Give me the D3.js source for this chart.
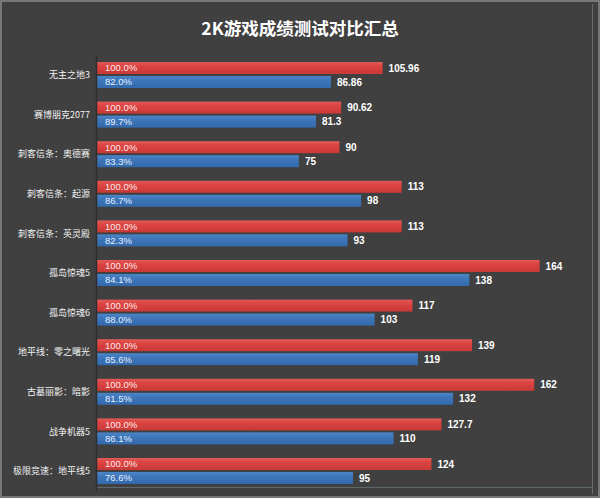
<!DOCTYPE html>
<html><head><meta charset="utf-8">
<script src="https://cdn.jsdelivr.net/npm/d3@7"></script>
<style>body{margin:0;background:#404040;}svg{display:block;}</style>
</head><body>
<script>
const categories = ["无主之地3","赛博朋克2077","刺客信条：奥德赛","刺客信条：起源","刺客信条：英灵殿","孤岛惊魂5","孤岛惊魂6","地平线：零之曙光","古墓丽影：暗影","战争机器5","极限竞速：地平线5"];
const redValues = [105.96, 90.62, 90, 113, 113, 164, 117, 139, 162, 127.7, 124];
const blueValues = [86.86, 81.3, 75, 98, 93, 138, 103, 119, 132, 110, 95];
const redPct = ["100.0%","100.0%","100.0%","100.0%","100.0%","100.0%","100.0%","100.0%","100.0%","100.0%","100.0%"];
const bluePct = ["82.0%","89.7%","83.3%","86.7%","82.3%","84.1%","88.0%","85.6%","81.5%","86.1%","76.6%"];
const redLabels = ["105.96","90.62","90","113","113","164","117","139","162","127.7","124"];
const blueLabels = ["86.86","81.3","75","98","93","138","103","119","132","110","95"];

const W = 600, H = 498;
const svg = d3.select("body").append("svg").attr("width", W).attr("height", H);
const defs = svg.append("defs");
function grad(id, top, mid, bot){
  const g = defs.append("linearGradient").attr("id", id).attr("x1",0).attr("y1",0).attr("x2",0).attr("y2",1);
  g.append("stop").attr("offset","0%").attr("stop-color",top);
  g.append("stop").attr("offset","35%").attr("stop-color",mid);
  g.append("stop").attr("offset","100%").attr("stop-color",bot);
}
grad("gr","#e25a58","#dc4442","#c83937");
grad("gb","#4b86c8","#3e76ba","#336aad");

svg.append("rect").attr("width",W).attr("height",H).attr("fill","#404040");
svg.append("rect").attr("x",1).attr("y",1).attr("width",W-2).attr("height",H-2)
  .attr("fill","none").attr("stroke","#8a8a8a").attr("stroke-width",1.5);

svg.append("text").attr("x",300).attr("y",35).attr("text-anchor","middle")
  .attr("fill","#ffffff").attr("font-family","'Noto Sans CJK SC', sans-serif")
  .attr("font-weight","bold").attr("font-size",17.5).text("2K游戏成绩测试对比汇总");

const x = d3.scaleLinear().domain([0, 180]).range([96, 96 + 180 * 2.705]);
const y = d3.scaleBand().domain(categories).range([55.2, 490.8]).padding(0);

svg.append("line").attr("x1",592.5).attr("x2",592.5).attr("y1",4).attr("y2",H-4).attr("stroke","#6a6a6a");
svg.append("line").attr("x1",96).attr("x2",592).attr("y1",487.5).attr("y2",487.5).attr("stroke","#5e6a6a");

const g = svg.append("g");
categories.forEach((c, i) => {
  const cy = y(c) + y.bandwidth() / 2;
  g.append("rect").attr("x", x(0)).attr("y", cy - 13).attr("width", x(redValues[i]) - x(0)).attr("height", 12).attr("fill","url(#gr)");
  g.append("rect").attr("x", x(0)).attr("y", cy + 1).attr("width", x(blueValues[i]) - x(0)).attr("height", 12).attr("fill","url(#gb)");
  g.append("text").attr("x", 105).attr("y", cy - 7).attr("dy","0.35em").attr("fill","#ffe8e8")
    .attr("font-family","Arial, 'Liberation Sans', sans-serif").attr("font-size",9.5).text(redPct[i]);
  g.append("text").attr("x", 105).attr("y", cy + 7).attr("dy","0.35em").attr("fill","#e6f0ff")
    .attr("font-family","Arial, 'Liberation Sans', sans-serif").attr("font-size",9.5).text(bluePct[i]);
  g.append("text").attr("x", x(redValues[i]) + 6).attr("y", cy - 7).attr("dy","0.35em").attr("fill","#ffffff")
    .attr("font-family","'Liberation Sans', Arial, sans-serif").attr("font-weight","bold").attr("font-size",10).text(redLabels[i]);
  g.append("text").attr("x", x(blueValues[i]) + 6).attr("y", cy + 7).attr("dy","0.35em").attr("fill","#ffffff")
    .attr("font-family","'Liberation Sans', Arial, sans-serif").attr("font-weight","bold").attr("font-size",10).text(blueLabels[i]);
  g.append("text").attr("x", 90).attr("y", cy).attr("dy","0.35em").attr("text-anchor","end").attr("fill","#f2f2f2")
    .attr("font-family","'Noto Sans CJK SC', sans-serif").attr("font-size",9).text(c);
});

const axis = d3.axisLeft(y).tickSize(0).tickFormat("");
svg.append("g").attr("transform","translate(96,0)").call(axis)
  .call(s => s.select(".domain").attr("stroke","#2e2e2e").attr("stroke-width",1.5));
</script>
</body></html>
